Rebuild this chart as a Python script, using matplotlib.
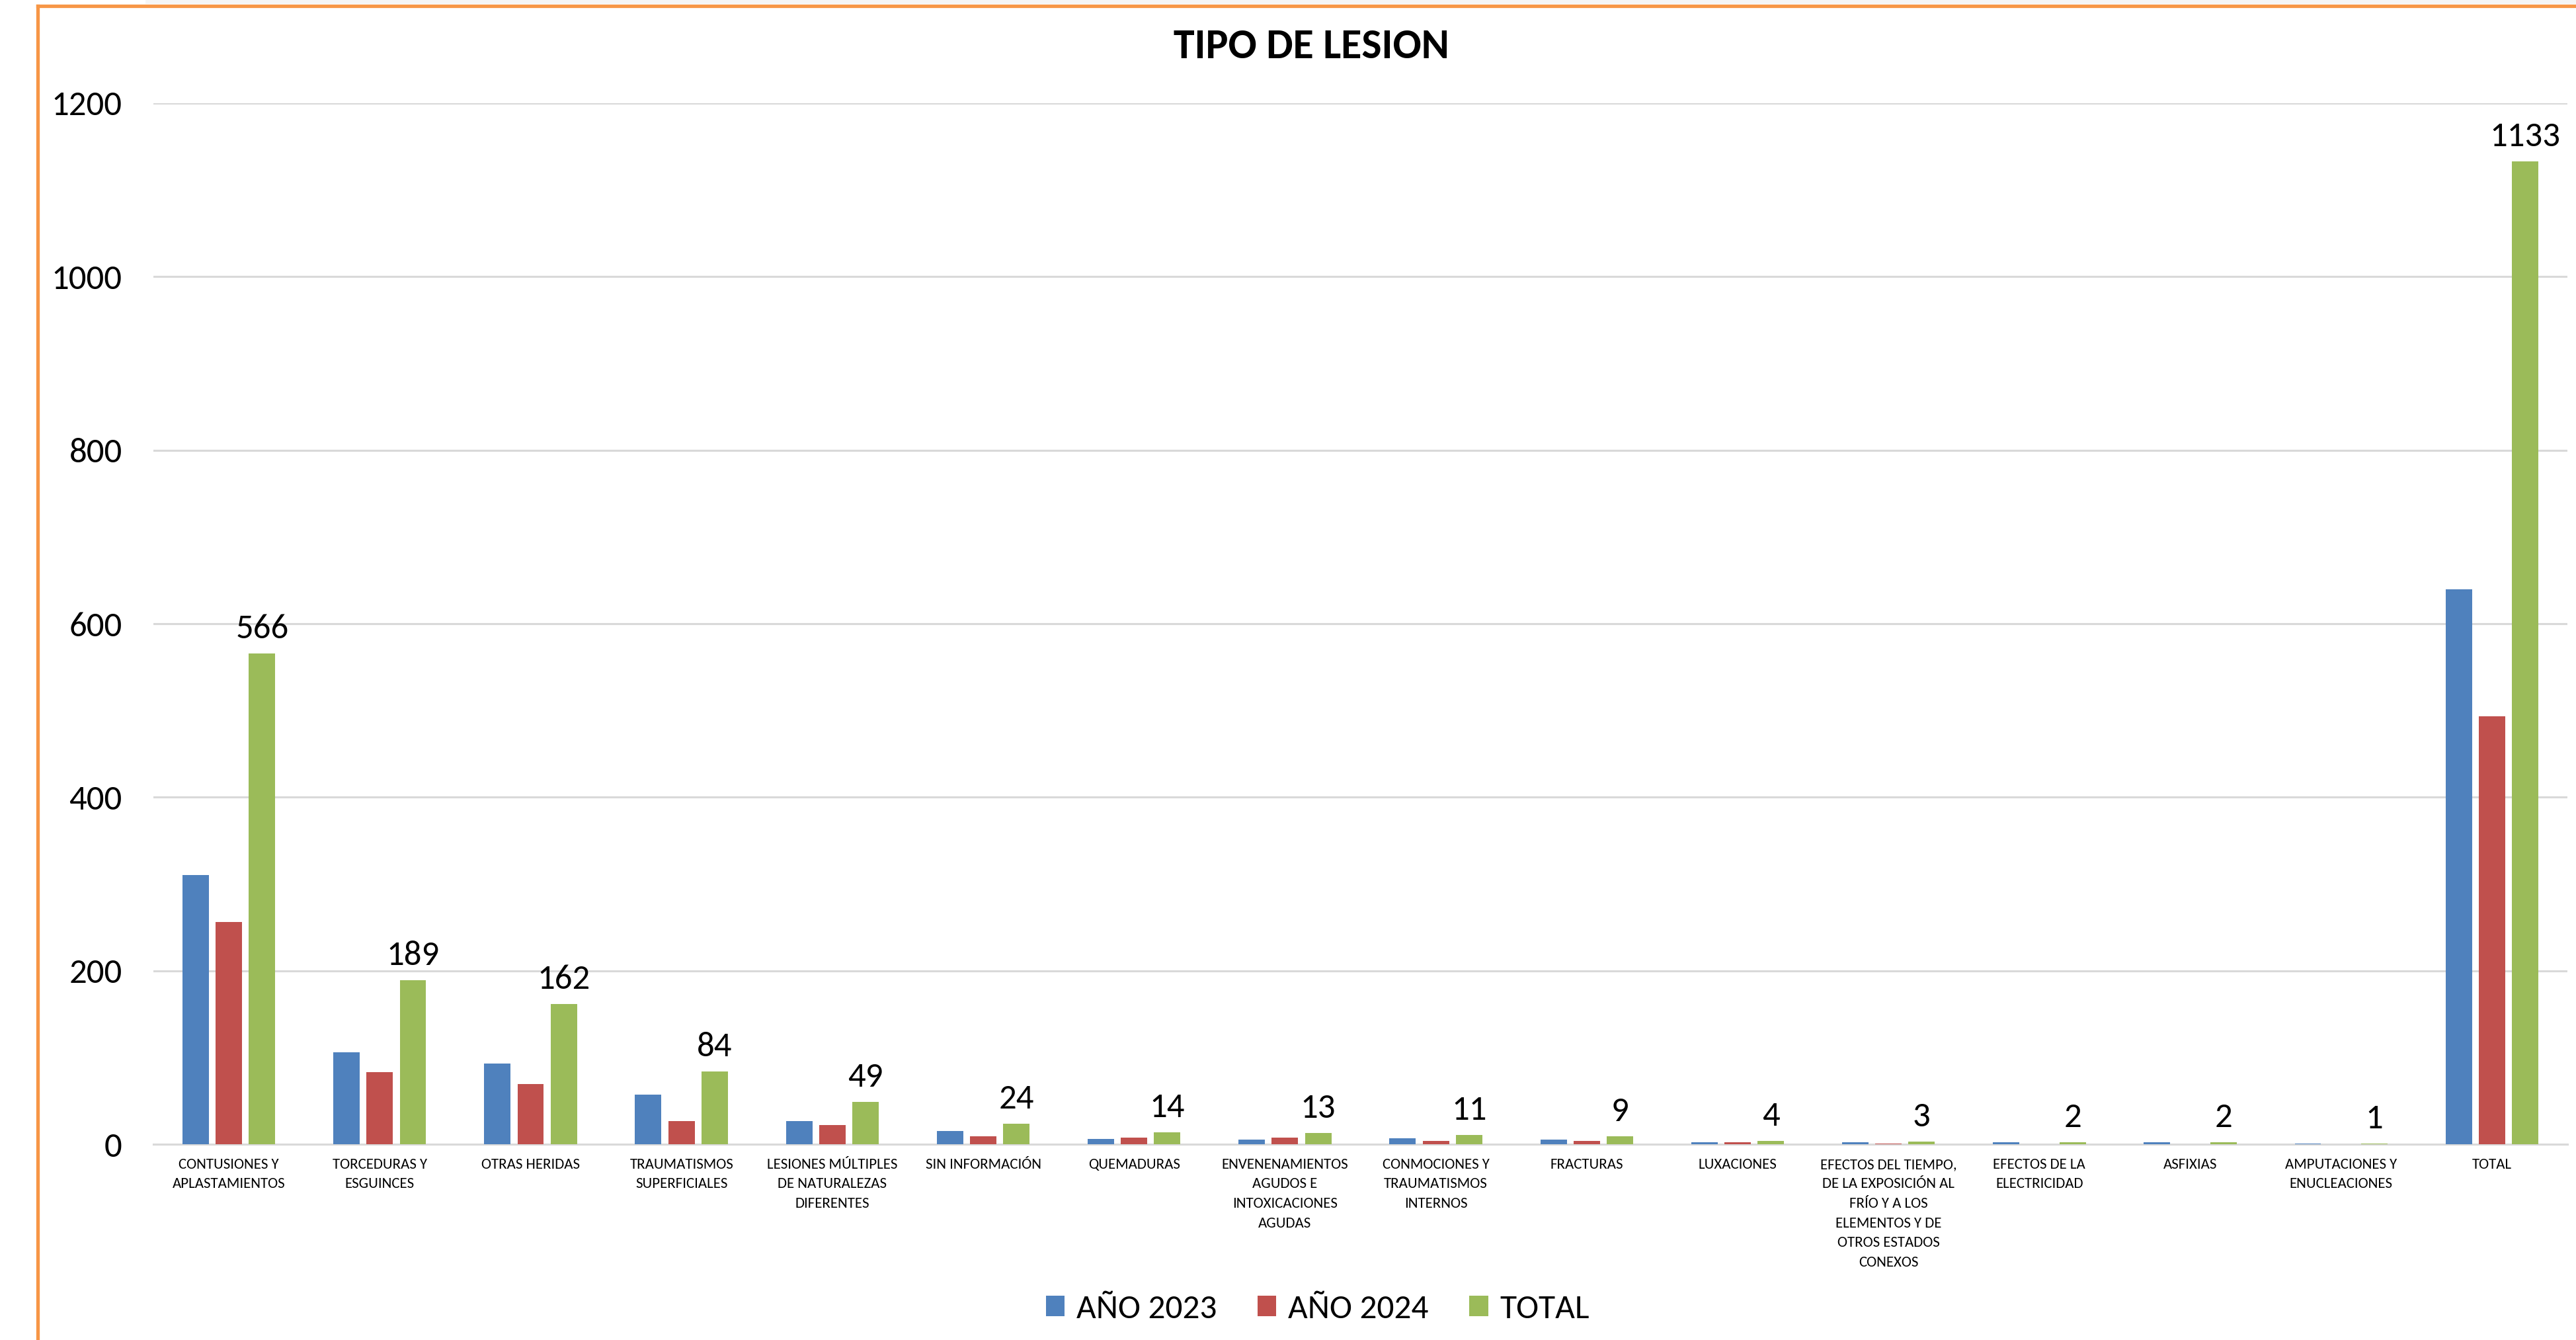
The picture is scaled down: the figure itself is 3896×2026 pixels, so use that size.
import numpy as np
import matplotlib
matplotlib.use("Agg")
import matplotlib.pyplot as plt
from matplotlib import font_manager
from matplotlib.lines import Line2D
from matplotlib.patches import Rectangle, Patch

# --- data ---
categorias = [
    "CONTUSIONES Y\nAPLASTAMIENTOS",
    "TORCEDURAS Y\nESGUINCES",
    "OTRAS HERIDAS",
    "TRAUMATISMOS\nSUPERFICIALES",
    "LESIONES MÚLTIPLES\nDE NATURALEZAS\nDIFERENTES",
    "SIN INFORMACIÓN",
    "QUEMADURAS",
    "ENVENENAMIENTOS\nAGUDOS E\nINTOXICACIONES\nAGUDAS",
    "CONMOCIONES Y\nTRAUMATISMOS\nINTERNOS",
    "FRACTURAS",
    "LUXACIONES",
    "EFECTOS DEL TIEMPO,\nDE LA EXPOSICIÓN AL\nFRÍO Y A LOS\nELEMENTOS Y DE\nOTROS ESTADOS\nCONEXOS",
    "EFECTOS DE LA\nELECTRICIDAD",
    "ASFIXIAS",
    "AMPUTACIONES Y\nENUCLEACIONES",
    "TOTAL",
]
anio_2023 = [310, 106, 93, 57, 27, 15, 6, 5, 7, 5, 2, 2, 2, 2, 1, 640]
anio_2024 = [256, 83, 69, 27, 22, 9, 8, 8, 4, 4, 2, 1, 0, 0, 0, 493]
total = [566, 189, 162, 84, 49, 24, 14, 13, 11, 9, 4, 3, 2, 2, 1, 1133]
series_nombres = ["AÑO 2023", "AÑO 2024", "TOTAL"]
y_ticks = [0, 200, 400, 600, 800, 1000, 1200]

colores = ["#4F81BD", "#C0504D", "#9BBB59"]

# pick a narrow-ish font if there is one
disponibles = {f.name for f in font_manager.fontManager.ttflist}
fuente = "DejaVu Sans"
for nombre in ["Carlito", "Liberation Sans Narrow", "Open Sans", "Liberation Sans"]:
    if nombre in disponibles:
        fuente = nombre
        break
plt.rcParams["font.family"] = [fuente, "DejaVu Sans"]

W, H = 3896, 2026
fig = plt.figure(figsize=(W / 100, H / 100), dpi=100)
fig.patch.set_facecolor("white")

ax = fig.add_axes([232 / W, 1 - 1730 / H, (3883 - 232) / W, (1730 - 156) / H])

x = np.arange(len(categorias))
ancho = 0.175
paso = 0.22
barras = []
for i, (vals, col) in enumerate(zip([anio_2023, anio_2024, total], colores)):
    b = ax.bar(x + (i - 1) * paso, vals, width=ancho, color=col, zorder=3,
               label=series_nombres[i])
    barras.append(b)

ax.bar_label(barras[2], labels=[str(v) for v in total], padding=10,
             fontsize=38, color="black")

ax.set_xlim(-0.5, len(categorias) - 0.5)
ax.set_ylim(0, 1200)
ax.set_yticks(y_ticks)
ax.tick_params(axis="y", length=0, labelsize=38, pad=34)
ax.set_xticks(x)
ax.set_xticklabels(categorias, fontsize=16.5, linespacing=1.6)
ax.tick_params(axis="x", length=0, pad=15)

ax.grid(axis="y", color="#D9D9D9", linewidth=2.2, zorder=0)
for s in ["left", "right", "top"]:
    ax.spines[s].set_visible(False)
ax.spines["bottom"].set_color("#D9D9D9")
ax.spines["bottom"].set_linewidth(2.2)
ax.set_axisbelow(True)

fig.text(1983 / W, 1 - 70 / H, "TIPO DE LESION", ha="center", va="center",
         fontsize=46, fontweight="bold")

handles = [Patch(facecolor=c) for c in colores]
fig.legend(handles, series_nombres, loc="center", bbox_to_anchor=(1993 / W, 1 - 1979 / H),
           ncol=3, frameon=False, fontsize=37, handlelength=0.55, handleheight=0.55,
           handletextpad=0.35, columnspacing=1.2)

# light strip above and the orange frame (cut at right and bottom)
fig.add_artist(Rectangle((220 / W, 1 - 6 / H), 1, 6 / H, transform=fig.transFigure,
                         facecolor="#F5F5F5", edgecolor="none"))
fig.add_artist(Line2D([57 / W, 57 / W], [0, 1 - 9 / H], transform=fig.transFigure,
                      color="#F79646", linewidth=3.8, solid_capstyle="projecting"))
fig.add_artist(Line2D([57 / W, 1], [1 - 9 / H, 1 - 9 / H], transform=fig.transFigure,
                      color="#F79646", linewidth=3.8, solid_capstyle="projecting"))

fig.savefig("out.png", dpi=100)
print(fuente)
